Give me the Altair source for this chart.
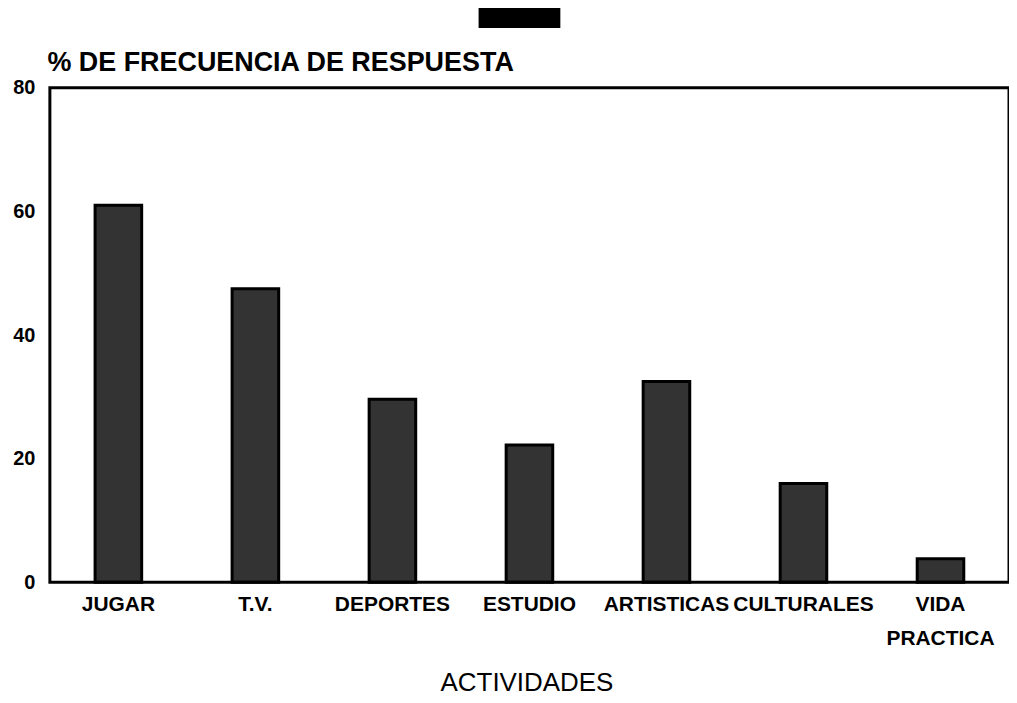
import altair as alt
import pandas as pd

categorias = ["JUGAR", "T.V.", "DEPORTES", "ESTUDIO", "ARTISTICAS", "CULTURALES", "VIDA PRACTICA"]
frecuencias = [61.0, 47.5, 29.6, 22.2, 32.5, 16.0, 3.8]
serie = ["%"] * len(categorias)
y_ticks = [0, 20, 40, 60, 80]

df = pd.DataFrame({"actividad": categorias, "frecuencia": frecuencias, "serie": serie})

FONT = "Liberation Sans"

chart = alt.Chart(df).mark_bar(stroke="#000000", strokeWidth=3, fillOpacity=0.8).encode(
    x=alt.X(
        "actividad:N",
        sort=categorias,
        scale=alt.Scale(paddingInner=0.66, paddingOuter=0.33),
        axis=alt.Axis(
            title="ACTIVIDADES",
            titleFont=FONT,
            titleFontSize=26,
            titleFontWeight="normal",
            titleColor="#000000",
            titleY=109,
            titleBaseline="alphabetic",
            titleX=478,
            labelFont=FONT,
            labelFontSize=21,
            labelFontWeight="bold",
            labelColor="#000000",
            labelAngle=0,
            labelPadding=11,
            labelLineHeight=34,
            labelExpr="split(datum.label, ' ')",
            ticks=False,
            domain=False,
        ),
    ),
    y=alt.Y(
        "frecuencia:Q",
        scale=alt.Scale(domain=[0, 80], nice=False),
        axis=alt.Axis(
            values=y_ticks,
            title="% DE FRECUENCIA DE RESPUESTA",
            titleAngle=0,
            titleAlign="left",
            titleBaseline="alphabetic",
            titleX=-3,
            titleY=-17,
            titleFont=FONT,
            titleFontSize=27,
            titleFontWeight="bold",
            titleColor="#000000",
            labelFont=FONT,
            labelFontSize=20,
            labelFontWeight="bold",
            labelColor="#000000",
            labelPadding=15,
            ticks=False,
            domain=False,
            grid=False,
        ),
    ),
    color=alt.Color(
        "serie:N",
        scale=alt.Scale(range=["#000000"]),
        legend=alt.Legend(
            title=None,
            orient="none",
            legendX=430,
            legendY=-111,
            symbolType="M-1,-0.244H1V0.244H-1Z",
            symbolSize=6724,
            symbolStrokeWidth=0,
            symbolOpacity=1,
            labelExpr="''",
            padding=0,
            symbolOffset=0,
            labelOffset=0,
        ),
    ),
).properties(
    width=962,
    height=496,
    background="#ffffff",
    autosize=alt.AutoSizeParams(type="none"),
    padding={"left": 42, "top": 79, "right": 0, "bottom": 114},
).configure_view(
    stroke="#000000",
    strokeWidth=3,
)

chart.save("out.html", embed_options={"renderer": "svg", "actions": False})
